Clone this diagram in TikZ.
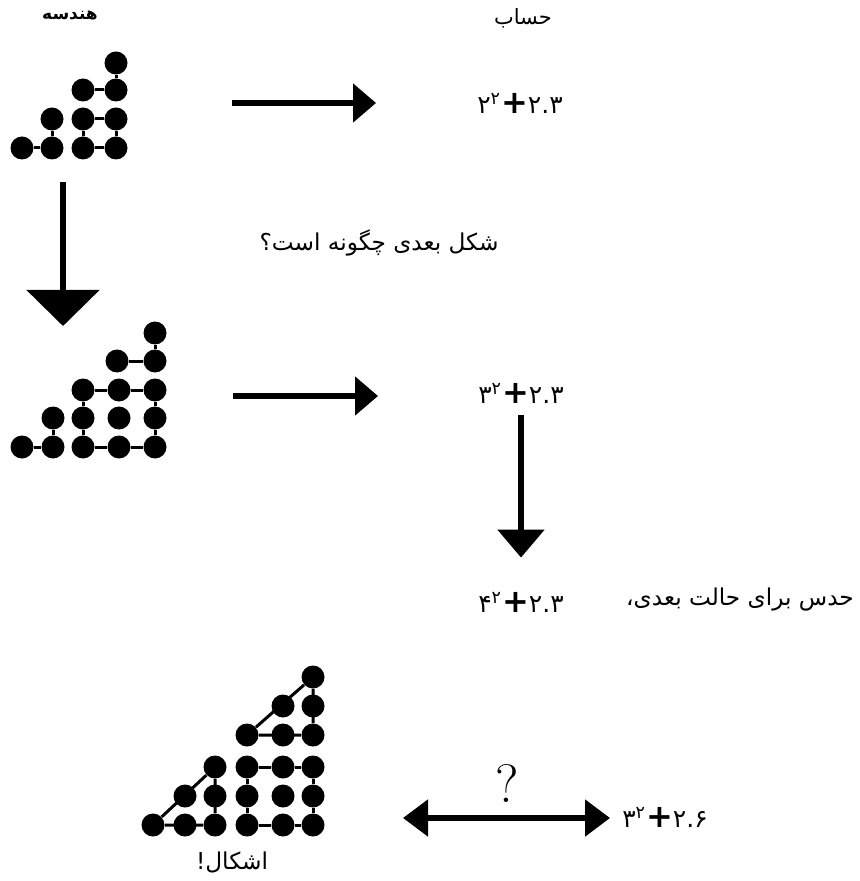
\documentclass[tikz,border=0pt]{standalone}
\usepackage{fontspec}
\usetikzlibrary{arrows.meta,positioning}
\newfontfamily\farsi[Script=Arabic]{DejaVu Sans}
\TeXXeTstate=1
\newcommand{\plusbig}{{\fontsize{16}{16}\selectfont\bfseries +}}
\newcommand{\expr}[3]{{\farsi #1\textsuperscript{#2}\plusbig #3}}
\tikzset{
  dot/.style={circle,fill=black,inner sep=0pt,minimum size=11.5pt},
  link/.style={line width=1.5pt},
  bigflow/.style={line width=2.6pt,-{Triangle[length=11.5pt,width=19pt]}},
  downflow/.style={line width=2.8pt,-{Triangle[length=14pt,width=23pt]}},
  twoflow/.style={line width=2.6pt,{Triangle[length=12.5pt,width=18pt]}-{Triangle[length=12.5pt,width=18pt]}},
  fatext/.style={font=\farsi\fontsize{11.6}{13}\selectfont,inner sep=0pt},
  formula/.style={font=\fontsize{12.5}{14}\selectfont,inner sep=0pt}
}
\begin{document}
\begin{tikzpicture}[x=0.5pt,y=-0.5pt]
  \useasboundingbox (0,0) rectangle (859,881);
  \node[fatext,font=\farsi\bfseries\fontsize{8.5}{10}\selectfont] (geo) at (70,15) {\beginR هندسه\endR};
  \node[fatext,font=\farsi\fontsize{10.5}{12}\selectfont] (calc) at (523,18) {\beginR حساب\endR};

  % shape for 2^2 + 2.3
  \node[dot] (a1) at (116,63) {};
  \node[dot] (a2) at (83,90) {};
  \node[dot] (a3) at (116,90) {};
  \node[dot] (a4) at (52,119) {};
  \node[dot] (a5) at (83,119) {};
  \node[dot] (a6) at (116,119) {};
  \node[dot] (a7) at (22,148) {};
  \node[dot] (a8) at (52,148) {};
  \node[dot] (a9) at (83,148) {};
  \node[dot] (a10) at (116,148) {};
  \draw[link] (a1) -- (a3) -- (a2);
  \draw[link] (a5) -- (a6) -- (a10) -- (a9) -- (a5);
  \draw[link] (a4) -- (a8) -- (a7);

  % shape for 3^2 + 2.3
  \foreach \i/\x in {1/83,2/119,3/155}
    \foreach \j/\y in {1/390,2/418,3/447}
      \node[dot] (b\i\j) at (\x,\y) {};
  \node[dot] (bt1) at (155,333) {};
  \node[dot] (bt2) at (117,361) {};
  \node[dot] (bt3) at (155,361) {};
  \node[dot] (bl1) at (53,418) {};
  \node[dot] (bl2) at (22,447) {};
  \node[dot] (bl3) at (53,447) {};
  \draw[link] (b11) -- (b21) -- (b31) -- (b32) -- (b33) -- (b23) -- (b13) -- (b12) -- (b11);
  \draw[link] (bt1) -- (bt3) -- (bt2);
  \draw[link] (bl1) -- (bl3) -- (bl2);

  % shape with triangles
  \foreach \i/\x in {1/247,2/283,3/313}
    \foreach \j/\y in {1/767,2/796,3/825}
      \node[dot] (c\i\j) at (\x,\y) {};
  \node[dot] (ct1) at (313,677) {};
  \node[dot] (ct2) at (283,706) {};
  \node[dot] (ct3) at (313,706) {};
  \node[dot] (ct4) at (247,735) {};
  \node[dot] (ct5) at (283,735) {};
  \node[dot] (ct6) at (313,735) {};
  \node[dot] (cl1) at (215,767) {};
  \node[dot] (cl2) at (185,796) {};
  \node[dot] (cl3) at (215,796) {};
  \node[dot] (cl4) at (153,825) {};
  \node[dot] (cl5) at (185,825) {};
  \node[dot] (cl6) at (215,825) {};
  \draw[link] (c11) -- (c21) -- (c31) -- (c32) -- (c33) -- (c23) -- (c13) -- (c12) -- (c11);
  \draw[link] (ct1) -- (ct4) -- (ct6) -- (ct1);
  \draw[link] (cl1) -- (cl4) -- (cl6) -- (cl1);
  \node[fatext] (odd) at (232,862) {\beginR اشکال!\endR};

  % expressions
  \node[formula] (e1) at (520,103) {\expr{۲}{۲}{۲.۳}};
  \node[formula] (e2) at (521,393) {\expr{۳}{۲}{۲.۳}};
  \node[formula] (e3) at (521,602) {\expr{۴}{۲}{۲.۳}};
  \node[formula] (e4) at (665,817) {\expr{۳}{۲}{۲.۶}};
  \node[fatext] (ask) at (379,243) {\beginR شکل بعدی چگونه است؟\endR};
  \node[fatext] (guess) at (740,600) {\beginR حدس برای حالت بعدی،\endR};
  \node[font=\fontsize{27}{28}\selectfont,inner sep=0pt] (q) at (507,784) {?};

  % arrows
  \coordinate (h1s) at (232,103);
  \coordinate (h1e) at (376,103);
  \coordinate (h2s) at (233,396);
  \coordinate (h2e) at (378,396);
  \coordinate (v1s) at (63,182);
  \coordinate (v1e) at (63,326);
  \coordinate (dls) at (403,818);
  \coordinate (dle) at (610,818);
  \draw[bigflow] (h1s) -- (h1e);
  \draw[bigflow] (h2s) -- (h2e);
  \draw[downflow,-{Triangle[length=18pt,width=36pt]}] (v1s) -- (v1e);
  \draw[downflow,shorten <=6pt,shorten >=17pt] (e2.south) -- (e3.north);
  \draw[twoflow] (dls) -- (dle);
\end{tikzpicture}
\end{document}
